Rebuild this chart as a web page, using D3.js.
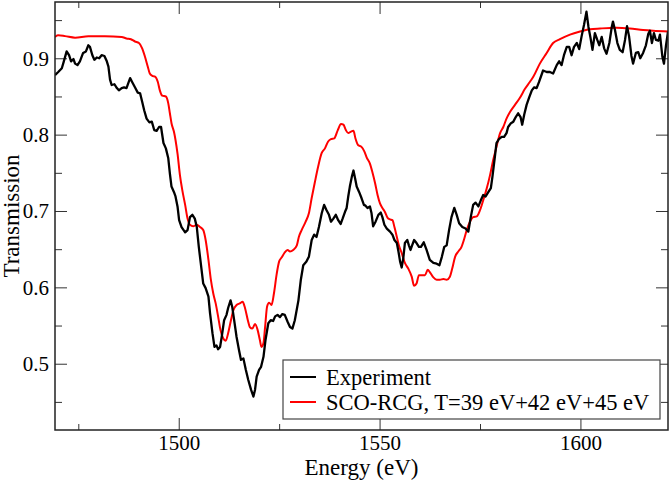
<!DOCTYPE html>
<html>
<head>
<meta charset="utf-8">
<script src="https://cdn.jsdelivr.net/npm/d3@7"></script>
<style>
  body { margin: 0; background: #fff; }
  svg { display: block; }
  svg text { font-family: "Liberation Serif", "DejaVu Serif", serif !important; fill: #000; }
</style>
</head>
<body>
<div id="chart"></div>
<script>
// measured spectrum (black)
var expEnergy = [
  1469.2,1470.0,1470.9,1471.4,1472.1,1472.7,1473.2,1473.8,1474.2,1474.8,
  1475.4,1476.2,1476.9,1477.5,1477.9,1478.5,1479.0,1479.6,1480.2,1480.8,
  1481.5,1482.1,1482.5,1482.9,1483.3,1484.0,1484.6,1485.1,1485.8,1486.4,
  1487.0,1487.9,1488.4,1489.1,1489.8,1490.4,1490.9,1491.4,1492.0,1492.7,
  1493.3,1493.9,1494.5,1495.1,1495.6,1496.2,1496.8,1497.4,1497.8,1498.2,
  1498.8,1499.2,1499.7,1500.1,1500.7,1501.6,1502.2,1502.8,1503.4,1504.0,
  1504.5,1505.0,1505.5,1506.1,1506.7,1507.4,1507.8,1508.4,1508.9,1509.4,
  1509.8,1510.3,1510.7,1511.3,1511.9,1512.3,1512.9,1513.3,1513.8,1514.4,
  1515.0,1515.5,1516.1,1516.7,1517.3,1518.0,1518.6,1519.0,1519.4,1520.0,
  1520.5,1521.1,1521.6,1522.3,1522.9,1523.5,1524.0,1524.6,1525.2,1525.8,
  1526.4,1527.1,1527.7,1528.3,1528.9,1529.8,1530.4,1531.0,1531.8,1532.4,
  1533.1,1533.7,1534.3,1534.9,1535.6,1536.2,1536.8,1537.4,1537.9,1538.5,
  1539.1,1539.7,1540.3,1540.8,1541.4,1541.8,1542.2,1542.6,1543.1,1543.5,
  1543.9,1544.3,1544.9,1545.5,1546.1,1546.5,1547.0,1547.6,1548.0,1548.4,
  1549.0,1549.7,1550.3,1550.7,1551.2,1551.8,1552.6,1553.2,1553.7,1554.3,
  1554.7,1555.1,1555.5,1555.9,1556.3,1556.9,1557.3,1557.7,1558.1,1558.6,
  1559.2,1559.8,1560.3,1561.0,1561.7,1562.5,1563.4,1564.2,1564.9,1565.5,
  1566.1,1566.7,1567.3,1567.9,1568.6,1569.2,1569.8,1570.6,1571.4,1572.1,
  1572.7,1573.3,1573.9,1574.6,1575.2,1575.8,1576.4,1577.1,1577.7,1578.1,
  1578.7,1579.1,1579.7,1580.4,1581.0,1581.6,1582.0,1582.7,1583.3,1583.9,
  1584.5,1585.1,1585.5,1586.0,1586.6,1587.2,1587.9,1588.5,1589.1,1589.7,
  1590.7,1591.6,1592.4,1593.2,1594.1,1594.7,1595.3,1595.9,1596.6,1597.2,
  1597.8,1598.4,1599.1,1599.7,1600.3,1600.9,1601.5,1602.0,1602.5,1603.0,
  1603.6,1604.2,1604.7,1605.3,1605.9,1606.5,1607.2,1607.8,1608.1,1608.6,
  1609.2,1609.8,1610.5,1611.1,1611.6,1612.1,1612.7,1613.1,1613.8,1614.4,
  1614.9,1615.6,1616.3,1616.9,1617.3,1617.8,1618.3,1618.8,1619.4,1619.8,
  1620.4,1620.8,1621.3,1621.8
];
var expTrans = [
  0.878,0.882,0.887,0.896,0.909,0.904,0.896,0.899,0.893,0.891,
  0.896,0.907,0.909,0.917,0.915,0.904,0.898,0.901,0.900,0.904,
  0.903,0.896,0.889,0.872,0.865,0.866,0.861,0.858,0.861,0.862,
  0.861,0.874,0.869,0.862,0.855,0.854,0.843,0.832,0.821,0.816,
  0.817,0.806,0.805,0.810,0.810,0.789,0.782,0.769,0.749,0.732,
  0.725,0.719,0.706,0.688,0.679,0.672,0.675,0.692,0.695,0.690,
  0.679,0.653,0.631,0.605,0.599,0.588,0.566,0.540,0.522,0.524,
  0.519,0.522,0.535,0.557,0.564,0.573,0.583,0.575,0.557,0.535,
  0.518,0.505,0.507,0.492,0.479,0.466,0.457,0.466,0.483,0.492,
  0.496,0.509,0.531,0.553,0.557,0.556,0.562,0.564,0.561,0.565,
  0.564,0.555,0.548,0.546,0.557,0.583,0.610,0.629,0.634,0.640,
  0.662,0.669,0.666,0.679,0.697,0.708,0.701,0.695,0.686,0.690,
  0.695,0.688,0.683,0.690,0.699,0.704,0.719,0.732,0.745,0.753,
  0.743,0.732,0.725,0.717,0.708,0.707,0.704,0.706,0.697,0.680,
  0.686,0.695,0.698,0.692,0.682,0.677,0.673,0.669,0.662,0.658,
  0.647,0.634,0.626,0.638,0.658,0.662,0.655,0.649,0.655,0.662,
  0.658,0.653,0.653,0.659,0.649,0.636,0.632,0.631,0.629,0.640,
  0.653,0.655,0.675,0.692,0.704,0.695,0.684,0.679,0.677,0.673,
  0.692,0.708,0.711,0.706,0.714,0.721,0.719,0.725,0.730,0.745,
  0.771,0.789,0.794,0.797,0.797,0.802,0.810,0.815,0.817,0.823,
  0.828,0.823,0.813,0.826,0.839,0.848,0.858,0.862,0.861,0.869,
  0.884,0.882,0.882,0.880,0.891,0.896,0.891,0.904,0.915,0.915,
  0.904,0.915,0.920,0.912,0.929,0.944,0.961,0.941,0.927,0.911,
  0.933,0.924,0.917,0.928,0.913,0.906,0.920,0.941,0.948,0.937,
  0.920,0.911,0.908,0.924,0.942,0.929,0.903,0.893,0.907,0.908,
  0.900,0.907,0.917,0.932,0.936,0.920,0.933,0.924,0.923,0.931,
  0.902,0.893,0.917,0.935
];

// SCO-RCG calculation (red)
var calcEnergy = [
  1469.2,1470.0,1471.7,1474.2,1477.5,1481.6,1485.8,1487.0,1488.1,1489.1,
  1490.1,1490.9,1491.6,1492.3,1492.8,1493.4,1494.1,1494.8,1495.3,1495.9,
  1496.8,1497.4,1497.8,1498.2,1498.8,1499.2,1499.7,1500.3,1500.9,1501.6,
  1502.2,1502.8,1503.6,1504.5,1505.3,1506.1,1506.7,1507.4,1508.0,1508.6,
  1509.2,1509.8,1510.4,1511.1,1511.7,1512.3,1513.0,1513.6,1514.4,1515.2,
  1515.9,1516.5,1517.2,1517.7,1518.3,1519.0,1519.6,1520.2,1520.6,1521.1,
  1521.5,1522.0,1522.5,1523.1,1523.7,1524.4,1525.0,1525.6,1526.3,1527.1,
  1527.7,1528.5,1529.4,1529.9,1530.6,1531.6,1532.4,1533.1,1533.9,1534.7,
  1535.6,1536.4,1537.2,1537.9,1538.7,1539.6,1540.4,1541.0,1541.6,1542.2,
  1542.9,1543.5,1544.0,1544.7,1545.5,1546.2,1546.8,1547.6,1548.2,1548.9,
  1549.5,1550.1,1550.7,1551.3,1552.0,1552.6,1553.2,1553.7,1554.3,1554.8,
  1555.5,1556.3,1557.1,1558.0,1558.6,1559.2,1559.8,1560.6,1561.3,1562.0,
  1562.5,1563.4,1564.2,1565.0,1565.9,1566.7,1567.5,1568.1,1568.8,1569.6,
  1570.4,1571.1,1571.7,1572.5,1573.3,1574.2,1575.0,1575.8,1576.7,1577.5,
  1578.3,1579.1,1580.0,1580.8,1581.6,1582.5,1583.7,1584.9,1586.2,1587.4,
  1588.3,1589.9,1591.6,1593.2,1594.9,1597.4,1599.9,1602.4,1604.9,1609.0,
  1612.3,1615.6,1618.1,1621.8
];
var calcTrans = [
  0.928,0.930,0.929,0.927,0.929,0.929,0.928,0.926,0.925,0.922,
  0.920,0.913,0.902,0.889,0.880,0.877,0.876,0.869,0.858,0.851,
  0.850,0.841,0.828,0.815,0.804,0.793,0.775,0.747,0.727,0.708,
  0.690,0.682,0.680,0.682,0.679,0.675,0.662,0.636,0.610,0.592,
  0.579,0.562,0.544,0.533,0.530,0.540,0.557,0.570,0.577,0.579,
  0.581,0.573,0.557,0.548,0.546,0.552,0.545,0.531,0.522,0.527,
  0.548,0.575,0.580,0.577,0.592,0.618,0.634,0.639,0.645,0.649,
  0.647,0.649,0.655,0.666,0.675,0.686,0.697,0.717,0.738,0.758,
  0.776,0.782,0.791,0.794,0.795,0.806,0.814,0.813,0.806,0.802,
  0.804,0.805,0.795,0.786,0.784,0.778,0.770,0.762,0.751,0.736,
  0.721,0.710,0.704,0.699,0.691,0.689,0.688,0.679,0.666,0.655,
  0.645,0.632,0.625,0.614,0.602,0.605,0.616,0.616,0.616,0.623,
  0.620,0.613,0.610,0.610,0.611,0.610,0.614,0.625,0.640,0.647,
  0.653,0.664,0.675,0.686,0.692,0.693,0.701,0.714,0.730,0.747,
  0.767,0.784,0.802,0.810,0.821,0.830,0.839,0.848,0.860,0.869,
  0.876,0.893,0.907,0.920,0.925,0.931,0.935,0.938,0.939,0.940,
  0.939,0.937,0.936,0.935
];

var xMajor = [1500, 1550, 1600];
var xMinor = [1475, 1525, 1575];
var yMajor = [0.5, 0.6, 0.7, 0.8, 0.9];
var yMinor = [0.45, 0.55, 0.65, 0.75, 0.85, 0.95];
var seriesNames = ["Experiment", "SCO-RCG, T=39 eV+42 eV+45 eV"];
var seriesColors = ["#000000", "#ff0000"];

var FONT = '"Liberation Serif", "DejaVu Serif", serif';

var width = 670,
  height = 480;
var margin = { top: 2, right: 2, bottom: 50, left: 55 };
var w = width - margin.left - margin.right,
  h = height - margin.top - margin.bottom;

var svg = d3
  .select("#chart")
  .append("svg")
  .attr("width", width)
  .attr("height", height)
  .attr("font-family", FONT);

var g = svg
  .append("g")
  .attr("transform", "translate(" + margin.left + "," + margin.top + ")");

var x = d3.scaleLinear().domain([1469.2, 1621.8]).range([0, w]);
var y = d3.scaleLinear().domain([0.4132, 0.9737]).range([h, 0]);

// ticks on all four sides, pointing inward
function ticks(axis, vals, size, labels, fmt, pad) {
  var a = axis.tickValues(vals).tickSize(-size).tickPadding(labels ? pad : 0);
  a.tickFormat(labels ? fmt : "");
  return a;
}
var fx = d3.format("d"),
  fy = d3.format(".1f");

function drawAxis(sel) {
  sel.attr("font-family", FONT);
  sel.select(".domain").remove();
  sel.selectAll("line").attr("stroke", "#333").attr("stroke-width", 1);
  sel.selectAll("text")
    .style("font-family", FONT)
    .style("font-size", "21px")
    .attr("fill", "#000");
}

g.append("g").attr("transform", "translate(0," + h + ")")
  .call(ticks(d3.axisBottom(x), xMinor, 6, false)).call(drawAxis);
g.append("g").attr("transform", "translate(0," + h + ")")
  .call(ticks(d3.axisBottom(x), xMajor, 12, true, fx, 5)).call(drawAxis);
g.append("g").call(ticks(d3.axisTop(x), xMinor, 6, false)).call(drawAxis);
g.append("g").call(ticks(d3.axisTop(x), xMajor, 12, false)).call(drawAxis);

g.append("g").call(ticks(d3.axisLeft(y), yMinor, 7, false)).call(drawAxis);
g.append("g").call(ticks(d3.axisLeft(y), yMajor, 12, true, fy, 6))
  .call(drawAxis)
  .selectAll("text").attr("x", -6);
g.append("g").attr("transform", "translate(" + w + ",0)")
  .call(ticks(d3.axisRight(y), yMinor, 7, false)).call(drawAxis);
g.append("g").attr("transform", "translate(" + w + ",0)")
  .call(ticks(d3.axisRight(y), yMajor, 12, false)).call(drawAxis);

// curves
var clip = g.append("clipPath").attr("id", "clip");
clip.append("rect").attr("width", w).attr("height", h);

var lineExp = d3
  .line()
  .x(function (d, i) { return x(expEnergy[i]); })
  .y(function (d) { return y(d); });

var lineCalc = d3
  .line()
  .curve(d3.curveMonotoneX)
  .x(function (d, i) { return x(calcEnergy[i]); })
  .y(function (d) { return y(d); });

g.append("path")
  .datum(calcTrans)
  .attr("clip-path", "url(#clip)")
  .attr("fill", "none")
  .attr("stroke", seriesColors[1])
  .attr("stroke-width", 2)
  .attr("stroke-linejoin", "round")
  .attr("d", lineCalc);

g.append("path")
  .datum(expTrans)
  .attr("clip-path", "url(#clip)")
  .attr("fill", "none")
  .attr("stroke", seriesColors[0])
  .attr("stroke-width", 2.3)
  .attr("stroke-linejoin", "round")
  .attr("d", lineExp);

// frame
g.append("rect")
  .attr("width", w)
  .attr("height", h)
  .attr("fill", "none")
  .attr("stroke", "#222")
  .attr("stroke-width", 1.5);

// axis titles
svg.append("text")
  .attr("x", margin.left + w / 2)
  .attr("y", 475)
  .attr("text-anchor", "middle")
  .style("font-family", FONT)
  .style("font-size", "23px")
  .text("Energy (eV)");

svg.append("text")
  .attr("transform", "translate(19," + (margin.top + h / 2) + ") rotate(-90)")
  .attr("text-anchor", "middle")
  .style("font-family", FONT)
  .style("font-size", "23px")
  .text("Transmission");

// legend
var legend = svg.append("g").attr("transform", "translate(283,360)");
legend.append("rect")
  .attr("width", 377)
  .attr("height", 59)
  .attr("fill", "#fff")
  .attr("stroke", "#444")
  .attr("stroke-width", 1.2);

var rows = legend.selectAll(".row")
  .data(seriesNames)
  .join("g")
  .attr("class", "row")
  .attr("transform", function (d, i) { return "translate(0," + (17 + i * 25) + ")"; });

rows.append("line")
  .attr("x1", 7)
  .attr("x2", 33)
  .attr("stroke", function (d, i) { return seriesColors[i]; })
  .attr("stroke-width", 2);

rows.append("text")
  .attr("x", 43)
  .attr("dy", "0.35em")
  .style("font-family", FONT)
  .style("font-size", "22.5px")
  .text(function (d) { return d; });
</script>
</body>
</html>
